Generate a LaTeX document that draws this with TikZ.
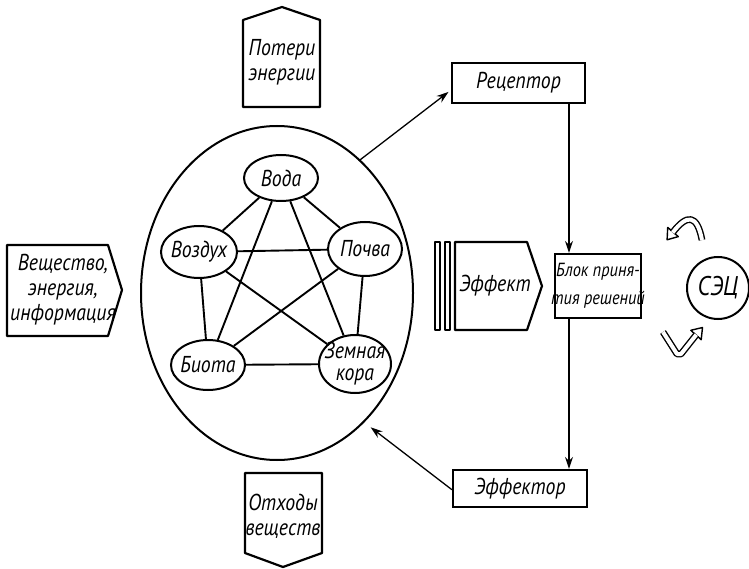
\documentclass[tikz,border=0pt]{standalone}
\usepackage{fontspec}
\setmainfont{PT Sans}[FakeStretch=0.86]
\usetikzlibrary{shapes.geometric,arrows.meta,calc}
\begin{document}
\begin{tikzpicture}[x=1pt,y=-1pt,
  lbl/.style={font=\fontsize{23}{25}\selectfont\itshape, inner sep=0pt, align=center},
  ell/.style={draw, ellipse, line width=2pt, inner sep=0pt},
  box/.style={draw, line width=2.2pt, inner sep=0pt, font=\fontsize{23}{25}\selectfont\itshape, align=center},
  shp/.style={draw, line width=2.2pt, line join=round},
  conn/.style={line width=1.9pt},
  arr/.style={line width=1.3pt, -{Stealth[length=12pt,width=8pt]}},
  hollow/.style={line width=1.4pt, double=white, double distance=4pt, line join=round},
  head/.style={fill=white, draw, line width=1.4pt, line join=round},
]
\useasboundingbox (0,0) rectangle (749,569);

% big system ellipse
\node[ell, minimum width=272, minimum height=334] (sys) at (277,293) {};

% inner ellipses
\node[ell, minimum width=74, minimum height=46, label={[lbl]center:Вода}] (wat) at (281,178) {};
\node[ell, minimum width=76, minimum height=52, label={[lbl]center:Воздух}] (air) at (199,252) {};
\node[ell, minimum width=74, minimum height=54, label={[lbl]center:Почва}] (soil) at (365,249) {};
\node[ell, minimum width=74, minimum height=50, label={[lbl]center:Биота}] (bio) at (208,365) {};
\node[ell, minimum width=72, minimum height=58, label={[lbl, font=\fontsize{23}{22}\selectfont\itshape]center:Земная\\кора}] (crust) at (355,364) {};

\foreach \a/\b in {wat/air, wat/soil, wat/bio, wat/crust, air/soil, air/bio, air/crust, soil/bio, soil/crust, bio/crust}
  \draw[conn] (\a) -- (\b);

% input pentagon (left)
\draw[shp] (7,245) -- (108,245) -- (122,290) -- (108,336) -- (7,336) -- cycle;
\node[lbl] (inp) at (63,290) {Вещество,\\энергия,\\информация};

% energy losses (top)
\draw[shp] (243,20) -- (282,7) -- (320,20) -- (320,107) -- (243,107) -- cycle;
\node[lbl] (loss) at (282,62) {Потери\\энергии};

% waste (bottom)
\draw[shp] (245,473) -- (322,473) -- (322,553) -- (283,567) -- (245,553) -- cycle;
\node[lbl] (waste) at (283,516) {Отходы\\веществ};

% effect
\draw[shp] (435,242) rectangle (440,330);
\draw[shp] (445,242) rectangle (450,330);
\draw[shp] (455,242) -- (527,242) -- (542,286) -- (527,330) -- (455,330) -- cycle;
\node[lbl] (eff) at (495,286) {Эффект};

% boxes
\node[box, minimum width=133, minimum height=40] (rec) at (518.5,83) {Рецептор};
\node[box, minimum width=134, minimum height=37] (act) at (520,488.5) {Эффектор};
\node[box, minimum width=86, minimum height=64, label={[lbl, font=\fontsize{19}{28}\selectfont\itshape]center:Блок приня-\\тия решений}] (blk) at (598,286) {};
\node[ell, minimum width=62, minimum height=62, font=\fontsize{27}{28}\selectfont\itshape] (sec) at (718,288) {СЭЦ};

\coordinate (vx) at (569,0);
\draw[arr] (rec.south -| vx) -- (blk.north -| vx);
\draw[arr] (blk.south -| vx) -- (act.north -| vx);
\draw[arr, shorten <=-2pt, shorten >=3pt] (sys.58) -- (rec.186);
\draw[arr, shorten >=8pt] (act.181) -- (sys.-56);

% hollow curved arrows near SEC
\draw[head] (678.3,236.6) -- (667.1,239.8) -- (667.7,227.4) -- cycle;
\draw[hollow] (702,240) .. controls (697,214) and (687,214) .. (672.6,232.6);
\draw[head] (701.2,339.7) -- (702.5,327.5) -- (690.8,330.3) -- cycle;
\draw[hollow] (663,332) -- (677,354) -- (681,354) -- (696.3,334.7);
\end{tikzpicture}
\end{document}
